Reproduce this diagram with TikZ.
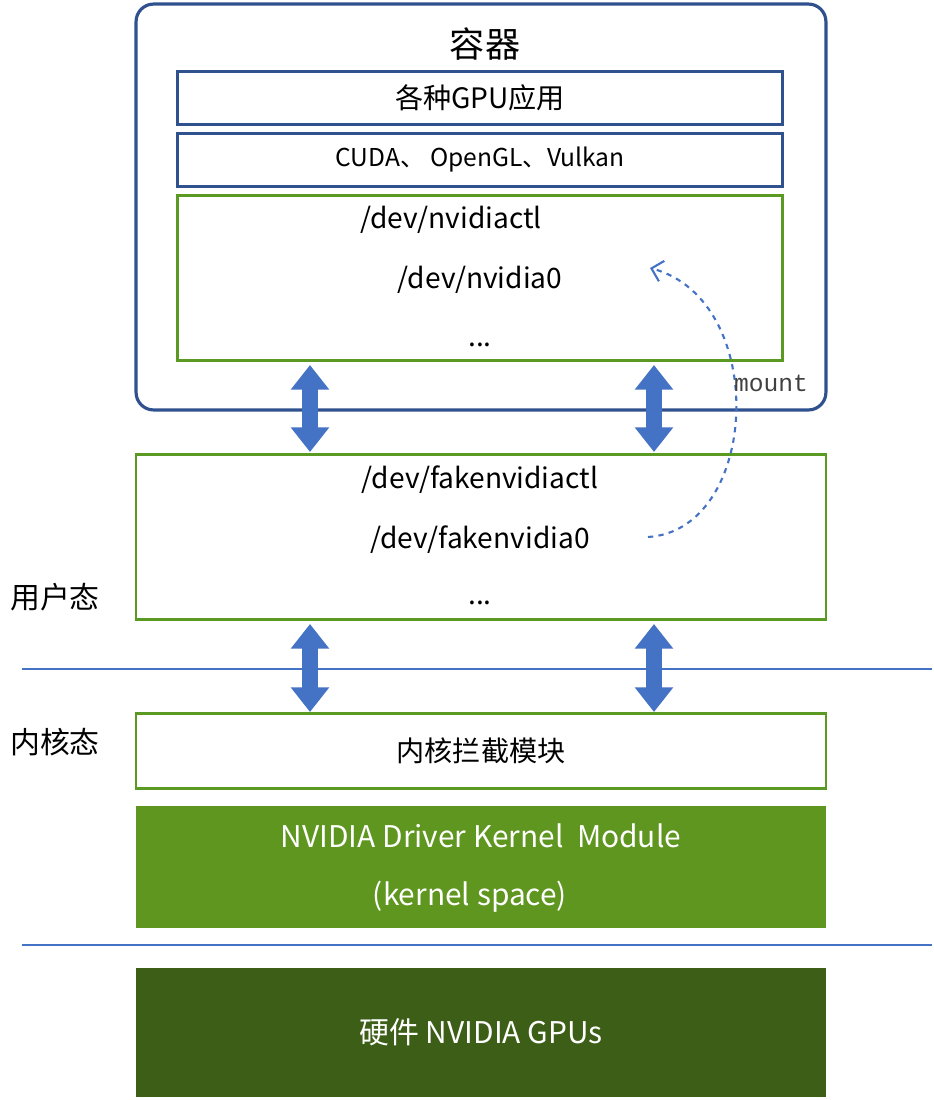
\documentclass[tikz,border=0pt]{standalone}
\usepackage{fontspec}
\setmainfont{Noto Sans CJK SC}
\newfontfamily\monofont{Liberation Mono}
\usetikzlibrary{arrows.meta,calc}
\definecolor{boxblue}{HTML}{2F528F}
\definecolor{arrblue}{HTML}{4472C4}
\definecolor{boxgreen}{HTML}{5A9A22}
\definecolor{drvgreen}{HTML}{5E961F}
\definecolor{hwgreen}{HTML}{3D5E17}
\tikzset{
  blay/.style={draw=boxblue, line width=1.6pt, minimum width=12.1cm, minimum height=1.06cm, font=\fontsize{16}{18}\selectfont},
  glay/.style={draw=boxgreen, line width=1.6pt},
  fat/.style={arrblue, line width=9pt, {Triangle[width=21pt,length=14pt]}-{Triangle[width=21pt,length=14pt]}},
  sep/.style={arrblue, line width=0.9pt},
  txt/.style={font=\fontsize{16}{18}\selectfont}
}
\begin{document}
\begin{tikzpicture}[x=0.02cm,y=-0.02cm]
\useasboundingbox (0,0) rectangle (934,1100);
% container
\node[draw=boxblue, line width=1.8pt, rounded corners=10pt, minimum width=13.8cm, minimum height=8.12cm] (ctr) at (481,207) {};
\node[font=\fontsize{20}{22}\selectfont] (ctrt) at (485,44) {容器};
\node[blay] (app) at (480,98) {各种GPU应用};
\node[blay, font=\fontsize{14}{16}\selectfont] (lib) at (480,160) {CUDA、 OpenGL、Vulkan};
\node[glay, minimum width=12.1cm, minimum height=3.3cm] (dev) at (480,278) {};
\node[txt] (nctl) at (451,220) {/dev/nvidiactl};
\node[txt] (n0) at (480,280) {/dev/nvidia0};
\node[txt] (ndots) at (480,345) {...};
% fake devices
\node[glay, minimum width=13.8cm, minimum height=3.3cm] (fake) at (481,537) {};
\node[txt] (fctl) at (480,480) {/dev/fakenvidiactl};
\node[txt] (f0) at (480,540) {/dev/fakenvidia0};
\node[txt] (fdots) at (480,603) {...};
% mount
\coordinate (ms) at (648,537);
\coordinate (me) at (650,268);
\draw[arrblue, line width=1.2pt, dashed, -{Straight Barb[length=6pt]}] (ms) .. controls (760,530) and (770,300) .. (me);
\node[font=\monofont\fontsize{14}{16}\selectfont, text=black!75] (mnt) at (771,383) {mount};
% kernel
\node[glay, minimum width=13.8cm, minimum height=1.5cm, txt] (hook) at (481,751) {内核拦截模块};
\node[fill=drvgreen, minimum width=13.8cm, minimum height=2.44cm] (drv) at (481,867) {};
\node[text=white, font=\fontsize{17}{19}\selectfont] (drv1) at (481,836) {NVIDIA Driver Kernel\ \ Module};
\node[text=white, font=\fontsize{17}{19}\selectfont] (drv2) at (470,897) {(kernel space)};
\node[fill=hwgreen, minimum width=13.8cm, minimum height=2.58cm, text=white, font=\fontsize{17}{19}\selectfont] (gpu) at (481,1032) {硬件 NVIDIA GPUs};
% layers
\coordinate (l1a) at (22,669); \coordinate (l1b) at (932,669);
\coordinate (l2a) at (22,945); \coordinate (l2b) at (932,945);
\draw[sep] (l1a) -- (l1b);
\draw[sep] (l2a) -- (l2b);
\node[txt, font=\fontsize{17}{19}\selectfont] (user) at (55,597) {用户态};
\node[txt, font=\fontsize{17}{19}\selectfont] (kern) at (55,742) {内核态};
% fat arrows
\foreach \xx in {310,654} {
  \draw[fat] (\xx,365) -- (\xx,452);
  \draw[fat] (\xx,624) -- (\xx,712);
}
\end{tikzpicture}
\end{document}
